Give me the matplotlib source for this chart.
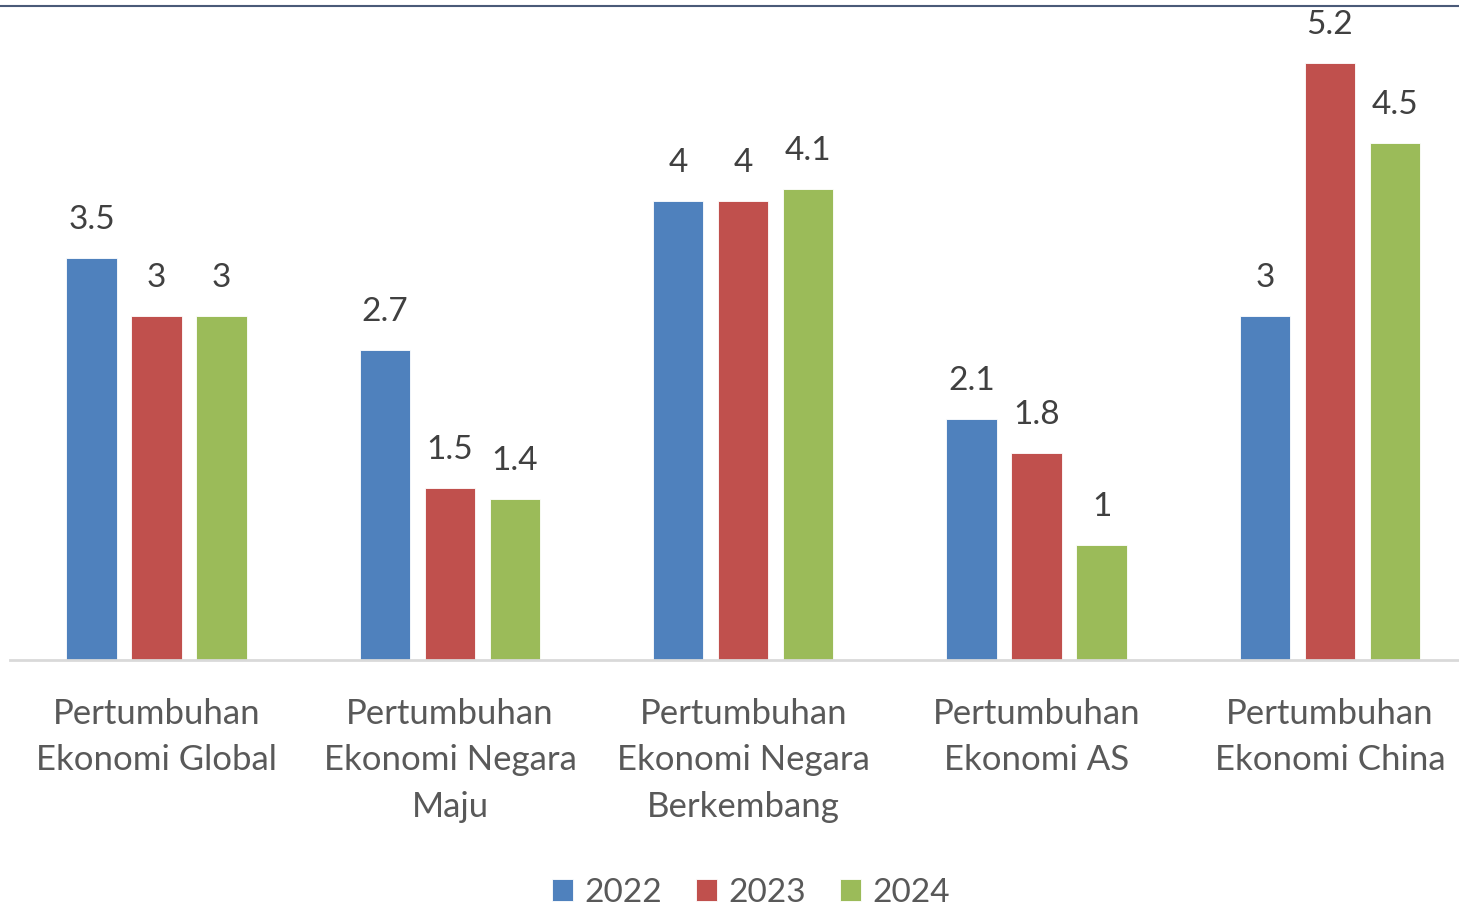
import matplotlib
matplotlib.use("Agg")
import matplotlib.pyplot as plt
import numpy as np

plt.rcParams['font.family'] = ['Lato', 'DejaVu Sans']

kategori = [
    "Pertumbuhan\nEkonomi Global",
    "Pertumbuhan\nEkonomi Negara\nMaju",
    "Pertumbuhan\nEkonomi Negara\nBerkembang",
    "Pertumbuhan\nEkonomi AS",
    "Pertumbuhan\nEkonomi China",
]
tahun = ["2022", "2023", "2024"]
nilai_2022 = [3.5, 2.7, 4, 2.1, 3]
nilai_2023 = [3, 1.5, 4, 1.8, 5.2]
nilai_2024 = [3, 1.4, 4.1, 1, 4.5]
warna = ["#4F81BD", "#C0504D", "#9BBB59"]

W, H = 1459, 909
fig = plt.figure(figsize=(W / 100, H / 100), dpi=100)
ax = fig.add_axes([10 / W, 1 - 660 / H, 1449 / W, 660 / H])

x = np.arange(len(kategori))
lebar = 0.172
jarak = 0.2216
semua = [nilai_2022, nilai_2023, nilai_2024]

for i, (seri, nama) in enumerate(zip(semua, tahun)):
    pos = x + (i - 1) * jarak
    bars = ax.bar(pos, seri, width=lebar, color=warna[i], label=nama,
                  edgecolor="white", linewidth=0.6, zorder=2)
    for b, v in zip(bars, seri):
        ax.text(b.get_x() + b.get_width() / 2, v + 0.2, f"{v:g}",
                ha="center", va="bottom", fontsize=24, color="#404040")

ax.set_xlim(-0.5, -0.5 + 1449 / 293.3)
ax.set_ylim(0, 660 / 114.8)
ax.set_xticks(x)
ax.set_xticklabels(kategori, fontsize=25, color="#595959", linespacing=1.57)
ax.tick_params(axis="x", length=0, pad=27)
ax.set_yticks([])
for s in ["top", "right", "left"]:
    ax.spines[s].set_visible(False)
ax.spines["bottom"].set_color("#D9D9D9")
ax.spines["bottom"].set_linewidth(2)

# garis tipis di atas
fig.add_artist(plt.Line2D([0, 1], [1 - 6 / H, 1 - 6 / H], color="#4A5A78", linewidth=1.5))

leg = fig.legend(loc="center", bbox_to_anchor=(751 / W, 1 - 893 / H), ncol=3,
                 frameon=False, fontsize=24, handlelength=0.64, handleheight=0.64,
                 handletextpad=0.35, columnspacing=1.0)
for t in leg.get_texts():
    t.set_color("#595959")

fig.savefig("out.png", dpi=100)
